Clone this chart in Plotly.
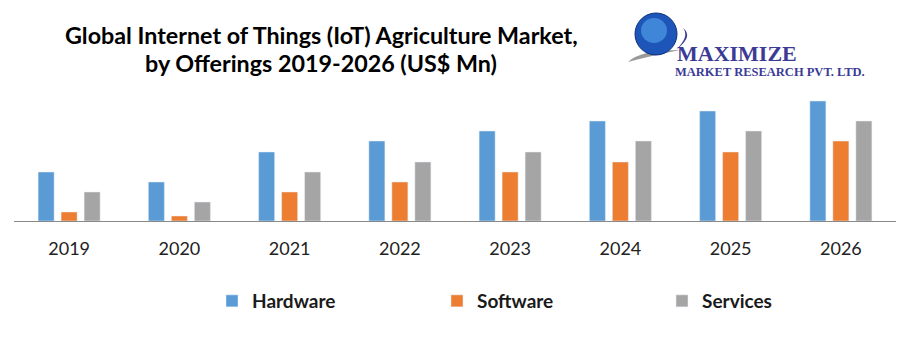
import plotly.graph_objects as go

years = ["2019", "2020", "2021", "2022", "2023", "2024", "2025", "2026"]
hardware = [49, 39, 69, 80, 90, 100, 110, 120]
software = [9, 5, 29, 39, 49, 59, 69, 80]
services = [29, 19, 49, 59, 69, 80, 90, 100]

W, H = 897, 351
L, R, T, B = 14, 1, 91, 130
PW = W - L - R
PH = H - T - B


def px(x):
    return (x - L) / PW


def py(y):
    return (H - B - y) / PH


fig = go.Figure()
fig.add_trace(go.Bar(name="Hardware", x=years, y=hardware, marker_color="#5B9BD5"))
fig.add_trace(go.Bar(name="Software", x=years, y=software, marker_color="#ED7D31"))
fig.add_trace(go.Bar(name="Services", x=years, y=services, marker_color="#A5A5A5"))

fig.update_layout(
    width=W, height=H,
    margin=dict(l=L, r=R, t=T, b=B, pad=0),
    paper_bgcolor="white", plot_bgcolor="white",
    barmode="group", bargap=0.374, bargroupgap=0.304,
    showlegend=True,
    legend=dict(orientation="h", x=px(212), xanchor="left", y=py(301), yanchor="middle",
                entrywidth=180, entrywidthmode="pixels",
                font=dict(family="Lato", size=19, color="#1a1a1a", weight="bold"),
                bgcolor="rgba(0,0,0,0)"),
    xaxis=dict(type="category", range=[-0.5, 7.5], showline=True, linecolor="#898989", linewidth=1,
               showgrid=False, ticks="", ticklabelstandoff=11,
               tickfont=dict(family="Lato", size=18, color="#222222"), fixedrange=True),
    yaxis=dict(range=[0, PH], visible=False, showgrid=False, zeroline=False),
    font=dict(family="Lato"),
)

# Title (two lines)
title_lines = ["Global Internet of Things (IoT) Agriculture Market,",
               "by Offerings 2019-2026 (US$ Mn)"]
for line, ypos in zip(title_lines, [35, 63]):
    fig.add_annotation(
        text=line, xref="paper", yref="paper", x=px(321), y=py(ypos),
        xanchor="center", yanchor="middle", showarrow=False,
        font=dict(family="Lato", size=23.3, color="#000000", weight="bold"),
    )

# Logo (approximation)
fig.add_shape(type="path", xref="paper", yref="paper",
              path=f"M {px(628)},{py(62)} Q {px(640)},{py(50)} {px(680)},{py(50)} Q {px(650)},{py(56)} {px(628)},{py(62)} Z",
              fillcolor="#9a9a9a", line=dict(width=0))
fig.add_shape(type="circle", xref="paper", yref="paper",
              x0=px(635), x1=px(677), y0=py(55), y1=py(13),
              fillcolor="#1d56b8", line=dict(color="#0f2f7a", width=1))
fig.add_shape(type="circle", xref="paper", yref="paper",
              x0=px(641), x1=px(667), y0=py(43), y1=py(18),
              fillcolor="#3f86d8", line=dict(width=0))
fig.add_shape(type="path", xref="paper", yref="paper",
              path=f"M {px(683)},{py(28)} Q {px(694)},{py(36)} {px(676)},{py(50)} Q {px(690)},{py(36)} {px(683)},{py(28)} Z",
              fillcolor="#3b3b96", line=dict(width=0))
fig.add_annotation(text="MAXIMIZE", xref="paper", yref="paper", x=px(737), y=py(54),
                   xanchor="center", yanchor="middle", showarrow=False,
                   font=dict(family="Liberation Serif", size=22, color="#3b3b96", weight="bold"))
fig.add_annotation(text="MARKET RESEARCH PVT. LTD.", xref="paper", yref="paper", x=px(770), y=py(72),
                   xanchor="center", yanchor="middle", showarrow=False,
                   font=dict(family="Liberation Serif", size=12.5, color="#3b3b96", weight="bold"))

fig.write_html("out.html")
